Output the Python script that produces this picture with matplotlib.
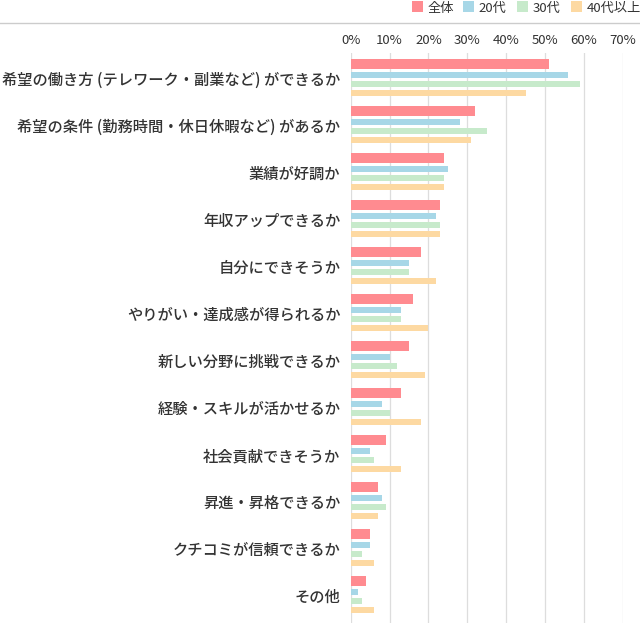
import matplotlib
matplotlib.use('Agg')
import matplotlib.pyplot as plt
from matplotlib.lines import Line2D
from matplotlib.patches import Rectangle
import numpy as np

plt.rcParams['font.family'] = ['Noto Sans CJK JP', 'DejaVu Sans']

categories = [
    '希望の働き方 (テレワーク・副業など) ができるか',
    '希望の条件 (勤務時間・休日休暇など) があるか',
    '業績が好調か',
    '年収アップできるか',
    '自分にできそうか',
    'やりがい・達成感が得られるか',
    '新しい分野に挑戦できるか',
    '経験・スキルが活かせるか',
    '社会貢献できそうか',
    '昇進・昇格できるか',
    'クチコミが信頼できるか',
    'その他',
]
series_names = ['全体', '20代', '30代', '40代以上']
all_ages = [51, 32, 24, 23, 18, 16, 15, 13, 9, 7, 5, 4]
age_20s = [56, 28, 25, 22, 15, 13, 10, 8, 5, 8, 5, 2]
age_30s = [59, 35, 24, 23, 15, 13, 12, 10, 6, 9, 3, 3]
age_40s = [45, 31, 24, 23, 22, 20, 19, 18, 13, 7, 6, 6]
x_ticks = [0, 10, 20, 30, 40, 50, 60, 70]

series = [all_ages, age_20s, age_30s, age_40s]
colors = ['#ff8b90', '#a7d7e7', '#c7eacb', '#fdd9a2']
offsets = [0.0, 0.238, 0.43, 0.621]
heights = [0.213, 0.128, 0.128, 0.128]

W, H = 640, 623
fig = plt.figure(figsize=(W / 100, H / 100), dpi=100)
ax = fig.add_axes([350.7 / W, 0, (622.7 - 350.7) / W, (H - 53) / H])

y = np.arange(len(categories))
for vals, col, off, h in zip(series, colors, offsets, heights):
    ax.barh(y + off, vals, height=h, color=col, zorder=3)

ax.set_xlim(0, 70)
ax.set_ylim(11.894, -0.234)
ax.xaxis.tick_top()
ax.set_xticks(x_ticks)
ax.set_xticklabels([f'{t}%' for t in x_ticks], fontsize=9.5, color='#333333')
ax.tick_params(axis='x', length=0, pad=4)
ax.set_yticks(y + 0.31)
ax.set_yticklabels(categories, fontsize=11, color='#333333', fontweight='medium')
ax.tick_params(axis='y', length=0, pad=7.5)
ax.grid(axis='x', color='#dddddd', linewidth=0.9, zorder=0)
for s in ax.spines.values():
    s.set_visible(False)

# thin rule under the legend
fig.add_artist(Line2D([0, 1], [1 - 22.5 / H, 1 - 22.5 / H], transform=fig.transFigure,
                      color='#cccccc', linewidth=1.0))

# legend drawn by hand (square + label), pixel positions along the top
legend_x = [412.3, 463.3, 517.3, 571.3]
for lx, name, col in zip(legend_x, series_names, colors):
    fig.add_artist(Rectangle((lx / W, 1 - 11.8 / H), 11 / W, 10.5 / H,
                             transform=fig.transFigure, facecolor=col, edgecolor='none'))
    fig.text((lx + 15.5) / W, 1 - 7 / H, name, fontsize=9.5, color='#333333',
             ha='left', va='center_baseline')

fig.savefig('out.png', dpi=100, facecolor='white')
